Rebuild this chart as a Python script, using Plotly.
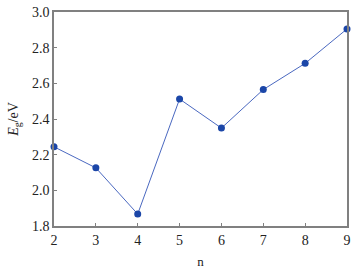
import plotly.graph_objects as go

n_values = [2, 3, 4, 5, 6, 7, 8, 9]
eg_values = [2.244, 2.126, 1.867, 2.512, 2.349, 2.565, 2.712, 2.905]
y_ticks = [1.8, 2.0, 2.2, 2.4, 2.6, 2.8, 3.0]
y_tick_labels = ["1.8", "2.0", "2.2", "2.4", "2.6", "2.8", "3.0"]

FONT = "Liberation Serif, Times New Roman, serif"

fig = go.Figure()
fig.add_trace(go.Scatter(
    x=n_values, y=eg_values, mode="lines+markers",
    line=dict(color="#4a68c0", width=1),
    marker=dict(color="#1b46a8", size=7),
    cliponaxis=False,
))

axis_common = dict(
    showline=True, linecolor="#808080", linewidth=1.5, mirror=True,
    ticks="inside", ticklen=3, tickcolor="#808080", tickwidth=1,
    showgrid=False, zeroline=False,
    ticklabeloverflow="allow",
    tickfont=dict(family=FONT, size=14, color="#222222"),
)

fig.update_layout(
    width=356, height=272,
    margin=dict(l=54, r=6, t=5, b=40),
    paper_bgcolor="white", plot_bgcolor="white",
    showlegend=False,
    font=dict(family=FONT),
    xaxis=dict(range=[2, 9], tickvals=n_values,
               title=dict(text="n", font=dict(family=FONT, size=13, color="#222222"), standoff=10),
               **axis_common),
    yaxis=dict(range=[1.8, 3.0], tickvals=y_ticks, ticktext=y_tick_labels,
               title=dict(text="<i>E</i><sub>g</sub>/eV", font=dict(family=FONT, size=14, color="#222222"), standoff=10),
               **axis_common),
)

fig.write_html("out.html", post_script="document.body.style.margin='0';",
               config={"displayModeBar": False})
